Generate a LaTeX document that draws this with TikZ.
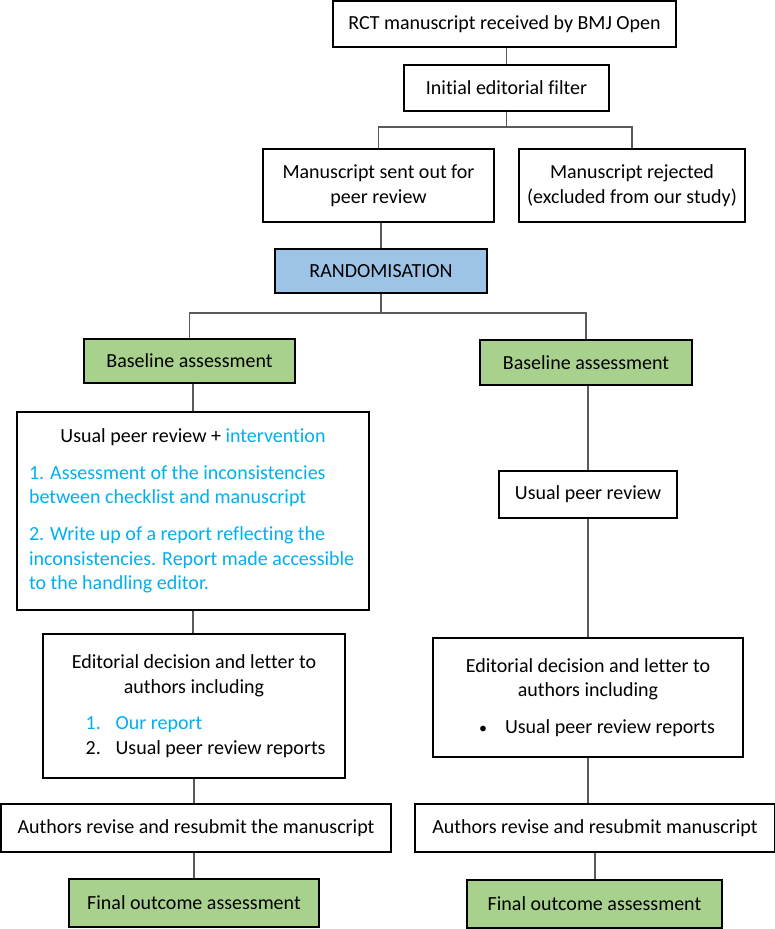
\documentclass[tikz,border=0pt]{standalone}
\usepackage{fontspec}
\setmainfont{Carlito}[Ligatures=NoCommon]
\definecolor{randblue}{HTML}{9DC3E6}
\definecolor{basegreen}{HTML}{A9D18E}
\definecolor{intervtext}{HTML}{00B0F0}
\definecolor{linkgray}{HTML}{5A5A5A}
\newcommand{\plainspaces}{\spaceskip=0pt\xspaceskip=0pt\relax}
\tikzset{
  box/.style={draw=black, line width=1.1pt, fill=white, inner sep=4pt, align=center,
    font=\fontsize{15}{18.5}\selectfont},
  greenbox/.style={box, fill=basegreen},
  bluebox/.style={box, fill=randblue},
  link/.style={draw=linkgray, line width=0.8pt}
}
\begin{document}
\begin{tikzpicture}[x=0.75pt, y=-0.75pt]
  \useasboundingbox (0,0) rectangle (775,929);
  % top of the flow
  \node[box, minimum width=257.25pt, minimum height=34.5pt] (received) at (504.5,24) {RCT manuscript received by BMJ Open};
  \node[box, minimum width=153.75pt, minimum height=34.5pt] (filter) at (506.5,88) {Initial editorial filter};
  \node[box, minimum width=173.25pt, minimum height=54.75pt] (sent) at (378.5,185.5) {Manuscript sent out for\\peer review};
  \node[box, minimum width=169.5pt, minimum height=54.75pt] (rejected) at (632,185.5) {Manuscript rejected\\(excluded from our study)};
  \node[bluebox, minimum width=159pt, minimum height=33pt] (random) at (381,271) {RANDOMISATION};
  \coordinate (split1) at (506.5,127);
  \coordinate (split2) at (381,313);
  % intervention arm
  \node[greenbox, minimum width=158.25pt, minimum height=33pt] (baseL) at (189.5,361) {Baseline assessment};
  \node[box, text width=250pt, inner xsep=7pt, align=left, minimum height=148.5pt] (interv) at (193,511) {\plainspaces
    {\centering Usual peer review + \textcolor{intervtext}{intervention}\par}
    \vspace{9pt}
    \hspace*{2pt}\textcolor{intervtext}{1. Assessment of the inconsistencies\\\hspace*{2pt}between checklist and manuscript}\par
    \vspace{9pt}
    \hspace*{2pt}\textcolor{intervtext}{2. Write up of a report reflecting the\\\hspace*{2pt}inconsistencies. Report made accessible\\\hspace*{2pt}to the handling editor.}};
  \node[box, text width=214.5pt, inner xsep=6pt, align=left, minimum height=108pt] (editL) at (194,706) {\plainspaces
    {\centering Editorial decision and letter to\\authors including\par}
    \vspace{9pt}
    \hspace*{26pt}\textcolor{intervtext}{\makebox[22.5pt][l]{1.}Our report}\\
    \hspace*{26pt}\makebox[22.5pt][l]{2.}Usual peer review reports};
  \node[box, minimum width=292.5pt, minimum height=36pt] (authL) at (196,828) {Authors revise and resubmit the manuscript};
  \node[greenbox, minimum width=187.5pt, minimum height=36pt] (finalL) at (194,903) {Final outcome assessment};
  % control arm
  \node[greenbox, minimum width=159pt, minimum height=33.75pt] (baseR) at (586,362.5) {Baseline assessment};
  \node[box, minimum width=133.5pt, minimum height=35.25pt] (usualR) at (588,494.5) {Usual peer review};
  \node[box, text width=220.5pt, inner xsep=6pt, align=left, minimum height=89.25pt] (editR) at (588,697.5) {\plainspaces
    {\centering Editorial decision and letter to\\authors including\par}
    \vspace{9pt}
    \hspace*{28.5pt}\makebox[19.5pt][l]{\large\textbullet}Usual peer review reports};
  \node[box, minimum width=270pt, minimum height=36pt] (authR) at (595,828) {Authors revise and resubmit manuscript};
  \node[greenbox, minimum width=191.25pt, minimum height=36pt] (finalR) at (594.5,904) {Final outcome assessment};
  % connectors
  \draw[link] (filter.north) -- (filter.north |- received.south);
  \draw[link] (filter.south) -- (split1);
  \draw[link] (sent.north) |- (split1) -| (rejected.north);
  \draw[link] (sent.south -| random.north) -- (random.north);
  \draw[link] (random.south) -- (split2);
  \draw[link] (baseL.north) |- (split2) -| (baseR.north);
  \draw[link] (interv.north |- baseL.south) -- (interv.north);
  \draw[link] (interv.south) -- (interv.south |- editL.north);
  \draw[link] (editL.south) -- (editL.south |- authL.north);
  \draw[link] (finalL.north |- authL.south) -- (finalL.north);
  \draw[link] (baseR.south -| usualR.north) -- (usualR.north);
  \draw[link] (usualR.south) -- (editR.north);
  \draw[link] (editR.south) -- (editR.south |- authR.north);
  \draw[link] (authR.south) -- (authR.south |- finalR.north);
\end{tikzpicture}
\end{document}
